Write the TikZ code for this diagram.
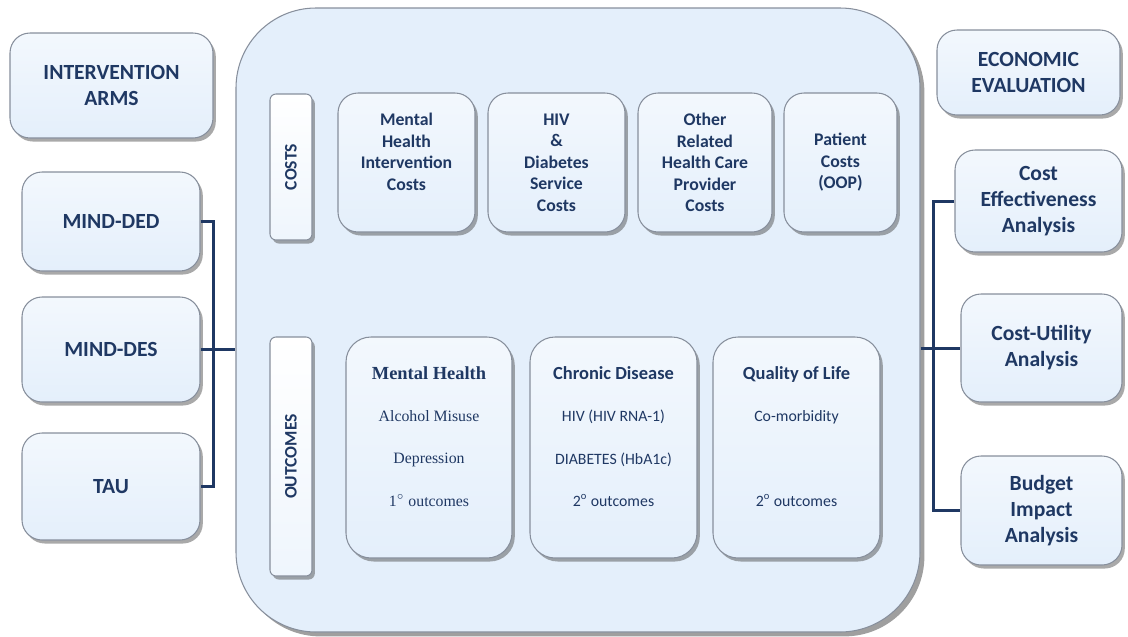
\documentclass[tikz,border=0pt]{standalone}
\usepackage{fontspec}
\setmainfont{Carlito}
\newfontfamily\timesfont{Liberation Serif}
\usetikzlibrary{shadows}

\definecolor{navy}{RGB}{31,56,99}
\definecolor{paleblue}{RGB}{228,239,251}
\definecolor{rimgray}{RGB}{135,143,156}

\tikzset{
  bevel/.style={draw=rimgray, line width=0.6pt, top color=paleblue!45!white, bottom color=paleblue,
    drop shadow={shadow xshift=1.6pt, shadow yshift=-2pt, opacity=0.45, fill=black!75}},
  panel/.style={bevel, rounded corners=0.4cm, text=navy, align=center,
    font=\bfseries\fontsize{12.3}{14.9}\selectfont},
  costbox/.style={bevel, rounded corners=0.4cm, text=navy, align=center,
    font=\bfseries\fontsize{10.1}{12.2}\selectfont},
  outbox/.style={bevel, rounded corners=0.5cm},
  outtext/.style={text=navy, align=center, inner sep=0pt, font=\fontsize{9}{11}\selectfont},
  tagbox/.style={bevel, rotate=90, rounded corners=0.12cm, top color=white, bottom color=paleblue!60!white,
    minimum height=0.84cm, text=navy, font=\bfseries\fontsize{10}{12}\selectfont},
  link/.style={draw=navy, line width=1.7pt}
}

\begin{document}
\begin{tikzpicture}
\useasboundingbox (0,0) rectangle (22.56,-12.72);

% central frame
\node[draw=rimgray, line width=0.6pt, fill=paleblue, rounded corners=1.6cm, minimum width=13.68cm, minimum height=12.48cm,
  drop shadow={shadow xshift=2.5pt, shadow yshift=-2.5pt, opacity=0.5, fill=black!75}] (frame) at (11.56,-6.4) {};

% intervention arms
\node[panel, minimum width=4.06cm, minimum height=2.1cm] (arms) at (2.23,-1.71) {INTERVENTION\\ARMS};
\node[panel, minimum width=3.56cm, minimum height=1.98cm] (ded) at (2.22,-4.43) {MIND-DED};
\node[panel, minimum width=3.56cm, minimum height=2.1cm] (des) at (2.22,-6.99) {MIND-DES};
\node[panel, minimum width=3.56cm, minimum height=2.14cm] (tau) at (2.22,-9.73) {TAU};

% economic evaluation
\node[panel, minimum width=3.66cm, minimum height=1.7cm] (econ) at (20.57,-1.45) {ECONOMIC\\EVALUATION};
\node[panel, minimum width=3.34cm, minimum height=2.04cm] (cea) at (20.77,-4.02) {Cost\\Effectiveness\\Analysis};
\node[panel, minimum width=3.22cm, minimum height=2.16cm] (cua) at (20.83,-6.96) {Cost-Utility\\Analysis};
\node[panel, minimum width=3.22cm, minimum height=2.18cm] (bia) at (20.83,-10.21) {Budget\\Impact\\Analysis};

% costs row
\node[tagbox, minimum width=2.92cm] (costs) at (5.82,-3.34) {COSTS};
\node[costbox, minimum width=2.74cm, minimum height=2.78cm] (mhc) at (8.13,-3.25) {Mental\\Health\\Intervention\\Costs\\\mbox{}};
\node[costbox, minimum width=2.74cm, minimum height=2.78cm] (hdc) at (11.13,-3.25) {HIV\\\&\\Diabetes\\Service\\Costs};
\node[costbox, minimum width=2.68cm, minimum height=2.78cm] (orc) at (14.1,-3.25) {Other\\Related\\Health Care\\Provider\\Costs};
\node[costbox, minimum width=2.26cm, minimum height=2.78cm] (pc) at (16.81,-3.25) {Patient\\Costs\\(OOP)};

% outcomes row
\node[tagbox, minimum width=4.78cm] (outcomes) at (5.82,-9.13) {OUTCOMES};
\node[outbox, minimum width=3.32cm, minimum height=4.42cm] (mho) at (8.58,-8.95) {};
\node[outbox, minimum width=3.34cm, minimum height=4.42cm] (cdo) at (12.27,-8.95) {};
\node[outbox, minimum width=3.34cm, minimum height=4.42cm] (qol) at (15.93,-8.95) {};

\node[outtext, anchor=north, font=\timesfont\fontsize{9}{11}\selectfont] (mhotxt) at ([yshift=-0.6cm]mho.north)
  {{\bfseries\fontsize{10.5}{11}\selectfont Mental Health}\\[13pt]Alcohol Misuse\\[13pt]Depression\\[13pt]1$^{\circ}$ outcomes};
\node[outtext, anchor=north] (cdotxt) at ([yshift=-0.6cm]cdo.north)
  {{\bfseries\fontsize{10.5}{11}\selectfont Chronic Disease}\\[13pt]HIV (HIV RNA-1)\\[13pt]DIABETES (HbA1c)\\[13pt]2\textsuperscript{o} outcomes};
\node[outtext, anchor=north] (qoltxt) at ([yshift=-0.6cm]qol.north)
  {{\bfseries\fontsize{10.5}{11}\selectfont Quality of Life}\\[13pt]Co-morbidity\\[13pt]\mbox{}\\[13pt]2\textsuperscript{o} outcomes};

% connectors
\draw[link] (ded.east) -- ++(0.26,0) |- (tau.east);
\draw[link] (des.east) -- (frame.west |- des.east);
\draw[link] (cea.west) -- ++(-0.42,0) |- (bia.west);
\draw[link] (frame.east |- cua.west) -- (cua.west);
\end{tikzpicture}
\end{document}
